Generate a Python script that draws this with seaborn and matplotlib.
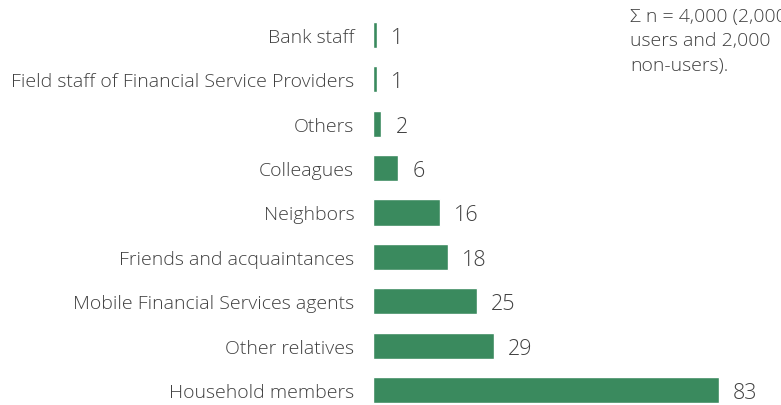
import matplotlib
matplotlib.use("Agg")
import matplotlib.pyplot as plt
import seaborn as sns
import pandas as pd

# Datos del gráfico
categorias = [
    "Bank staff",
    "Field staff of Financial Service Providers",
    "Others",
    "Colleagues",
    "Neighbors",
    "Friends and acquaintances",
    "Mobile Financial Services agents",
    "Other relatives",
    "Household members",
]
valores = [1, 1, 2, 6, 16, 18, 25, 29, 83]
nota = "\u03a3 n = 4,000 (2,000\nusers and 2,000\nnon-users)."

df = pd.DataFrame({"fuente": categorias, "pct": valores})

sns.set_style("white")
plt.rcParams["font.family"] = ["Open Sans", "DejaVu Sans"]

fig = plt.figure(figsize=(7.81, 4.06), dpi=100)
ax = fig.add_axes([373 / 781, 0, 375 / 781, 1])

sns.barplot(data=df, x="pct", y="fuente", orient="h", color="#3a8a5e",
            saturation=1, width=0.59, ax=ax)

ax.set_xlim(0, 90)
ax.set_ylim(8.338, -0.811)

# etiquetas de valor
for i, v in enumerate(valores):
    ax.text(v + 3.4, i, str(v), va="center_baseline", ha="left", fontsize=15.5,
            color="#404040", fontweight="light")

ax.set_xlabel("")
ax.set_ylabel("")
ax.set_xticks([])
ax.tick_params(axis="y", length=0, pad=13.5, labelsize=14, labelcolor="#404040")
for t in ax.get_yticklabels():
    t.set_fontweight("light")
sns.despine(ax=ax, left=True, bottom=True)

fig.text(630 / 781, 1 - 8 / 406, nota, ha="left", va="top", fontsize=14,
         color="#404040", linespacing=1.45, fontweight="light")

fig.savefig("out.png", dpi=100)
